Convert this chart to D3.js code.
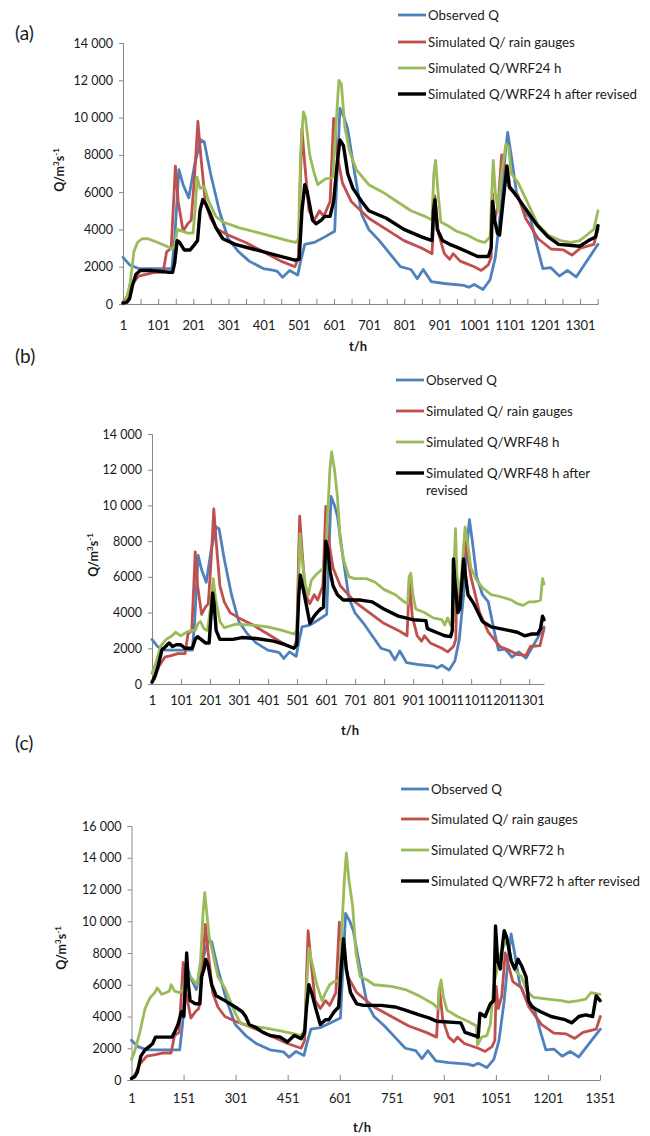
<!DOCTYPE html>
<html><head><meta charset="utf-8">
<script src="https://cdn.jsdelivr.net/npm/d3@7"></script>
<style>
html,body{margin:0;padding:0;background:#fff;}
svg{display:block;font-family:Lato,"Open Sans",sans-serif;}
</style></head>
<body>
<svg id="chart" width="650" height="1136"></svg>
<script>
// ---------- DATA ----------
const legendA = ["Observed Q","Simulated Q/ rain gauges","Simulated Q/WRF24 h","Simulated Q/WRF24 h after revised"];
const legendB = ["Observed Q","Simulated Q/ rain gauges","Simulated Q/WRF48 h","Simulated Q/WRF48 h after|revised"];
const legendC = ["Observed Q","Simulated Q/ rain gauges","Simulated Q/WRF72 h","Simulated Q/WRF72 h after revised"];

const yTicksA = [0,2000,4000,6000,8000,10000,12000,14000];
const yTicksB = [0,2000,4000,6000,8000,10000,12000,14000];
const yTicksC = [0,2000,4000,6000,8000,10000,12000,14000,16000];
const xTicksA = [1,51,101,151,201,251,301,351,401,451,501,551,601,651,701,751,801,851,901,951,1001,1051,1101,1151,1201,1251,1301,1351];
const xLabelsA = [1,101,201,301,401,501,601,701,801,901,1001,1101,1201,1301];
const xTicksB = [1,101,201,301,401,501,601,701,801,901,1001,1101,1201,1301];
const xTicksC = [1,151,301,451,601,751,901,1051,1201,1351];

const observedQ = [[1,2500],[20,2100],[45,1900],[100,1900],[140,1900],[148,3500],[160,7200],[172,6400],[188,5700],[205,7500],[222,8800],[232,8700],[250,7000],[275,5000],[300,3500],[330,2800],[360,2300],[400,1900],[430,1800],[440,1750],[455,1430],[475,1800],[498,1550],[505,2200],[518,3200],[545,3300],[575,3600],[603,3900],[610,7000],[618,10500],[630,10000],[640,9400],[660,7000],[680,4800],[700,4000],[730,3400],[760,2700],[790,2000],[820,1850],[838,1350],[855,1850],[878,1200],[915,1100],[970,1000],[985,900],[1000,1050],[1025,780],[1045,1300],[1060,2500],[1075,5000],[1088,8000],[1095,9200],[1105,8000],[1120,6000],[1140,5000],[1160,4600],[1180,3000],[1195,1900],[1218,1950],[1242,1500],[1265,1800],[1290,1450],[1352,3200]];

const rainGaugeQ = [[1,100],[10,300],[25,1000],[45,1500],[70,1600],[90,1700],[115,1700],[125,2800],[138,3000],[145,5500],[150,7400],[158,5500],[172,3900],[185,4300],[195,4500],[205,7000],[214,9800],[222,8000],[235,5500],[250,4600],[270,4000],[300,3700],[350,3300],[400,2800],[450,2300],[490,2000],[500,2500],[506,7000],[510,9400],[518,7500],[530,5000],[545,4500],[560,5000],[572,4700],[590,5500],[600,9950],[610,8000],[625,6500],[650,5500],[700,4600],[750,4000],[800,3400],[850,3000],[880,2700],[888,5800],[898,3800],[915,2700],[930,2400],[940,2700],[960,2300],[1000,2000],[1020,1800],[1040,2100],[1048,2500],[1052,5900],[1058,4500],[1068,5300],[1078,8000],[1090,7000],[1100,6200],[1125,5800],[1146,4600],[1182,3500],[1218,2950],[1254,2900],[1278,2620],[1302,3000],[1340,3200],[1352,4000]];

const rainGaugeQb = [[1,100],[10,300],[25,1000],[45,1500],[70,1600],[90,1700],[115,1700],[125,2800],[138,3000],[145,5500],[150,7400],[158,5500],[172,3900],[185,4300],[195,4500],[205,7000],[214,9800],[222,8000],[235,5500],[250,4600],[270,4000],[300,3700],[350,3300],[400,2800],[450,2300],[490,2000],[500,2500],[506,7000],[510,9400],[518,7500],[530,5000],[545,4500],[560,5000],[572,4700],[590,5500],[600,9950],[610,8000],[625,6500],[650,5500],[700,4600],[750,4000],[800,3400],[850,3000],[880,2700],[888,5800],[898,3800],[915,2700],[930,2400],[940,2700],[960,2300],[1000,2000],[1020,1800],[1040,2100],[1048,2500],[1052,5900],[1058,4500],[1068,5300],[1078,8000],[1090,7000],[1100,6000],[1130,4000],[1160,2900],[1200,2100],[1230,1900],[1260,1650],[1290,1600],[1305,2100],[1338,2150],[1352,3100]];

const wrf24Q = [[1,0],[12,300],[22,1200],[32,2800],[42,3300],[55,3500],[72,3500],[100,3300],[125,3100],[140,2950],[148,3100],[155,4000],[170,3900],[185,3800],[200,3800],[206,5000],[212,6800],[220,6200],[232,6300],[245,5500],[265,4700],[285,4400],[330,4100],[380,3850],[430,3600],[470,3400],[492,3300],[500,3500],[506,8000],[514,10300],[520,10000],[532,8000],[545,7000],[555,6400],[575,6700],[598,6800],[605,9000],[615,12000],[622,11800],[632,9500],[645,8200],[665,7200],[700,6400],[740,6000],[780,5500],[820,5000],[860,4700],[880,4500],[885,7000],[890,7700],[897,6000],[905,4400],[925,4200],[950,3900],[980,3700],[1010,3400],[1030,3300],[1045,3600],[1050,6000],[1054,7700],[1060,6000],[1068,5000],[1078,7000],[1090,8600],[1098,8400],[1105,7000],[1125,6500],[1150,5500],[1180,4300],[1210,3700],[1245,3400],[1275,3300],[1300,3400],[1320,3700],[1340,4000],[1352,5000]];

const wrf24RevQ = [[1,50],[12,100],[20,300],[28,1000],[38,1600],[50,1800],[80,1800],[110,1750],[130,1700],[142,1700],[148,2200],[155,3400],[162,3300],[175,2900],[192,2900],[205,3200],[213,3400],[220,5000],[228,5600],[238,5300],[250,4800],[265,4100],[285,3500],[320,3200],[370,2950],[420,2700],[460,2500],[490,2350],[502,2400],[510,5000],[518,6400],[525,6000],[540,4500],[550,4300],[565,4500],[575,4700],[590,4700],[600,5500],[610,7500],[618,8800],[628,8500],[640,7000],[655,6200],[680,5500],[700,5000],[750,4600],[800,4000],[850,3600],[880,3400],[884,5000],[888,5600],[895,4000],[910,3400],[930,3200],[950,3050],[980,2800],[1010,2550],[1040,2550],[1048,3000],[1052,5500],[1058,4500],[1066,3800],[1072,3700],[1082,5500],[1093,7400],[1100,6300],[1120,5800],[1150,5000],[1180,4200],[1210,3600],[1240,3200],[1270,3150],[1300,3100],[1325,3400],[1345,3600],[1352,4200]];

const wrf48Q = [[1,600],[15,1200],[30,2100],[50,2500],[70,2700],[82,2900],[100,2700],[120,2900],[135,3000],[150,3000],[160,3400],[168,3500],[180,3100],[192,3000],[202,4200],[212,5900],[220,4800],[235,3500],[250,3150],[290,3350],[350,3300],[400,3200],[450,3000],[490,2800],[500,3000],[505,5000],[511,8400],[518,7000],[530,5500],[540,5000],[550,5800],[565,6100],[585,6400],[598,6400],[605,9000],[614,12000],[620,13000],[630,12000],[640,10500],[650,8000],[662,6900],[680,6000],[700,5900],[740,5900],[770,5700],[800,5300],[840,5000],[870,4600],[882,4500],[887,6000],[893,6200],[900,5000],[910,4200],[940,4000],[970,3700],[1000,3600],[1010,3300],[1020,3700],[1030,3300],[1040,3500],[1043,7000],[1047,8700],[1052,6000],[1062,5000],[1072,7000],[1080,8800],[1088,8000],[1100,6500],[1120,5800],[1140,5400],[1170,5000],[1200,4900],[1220,4800],[1240,4700],[1260,4500],[1280,4400],[1300,4600],[1320,4600],[1340,4700],[1347,5900],[1352,5600]];

const wrf48RevQ = [[1,100],[10,400],[22,1000],[35,1900],[48,2100],[60,2300],[72,2100],[85,2200],[100,2200],[115,2000],[140,2000],[150,2500],[158,2650],[170,2500],[185,2300],[198,2300],[203,3500],[210,5100],[215,4500],[222,3000],[235,2500],[280,2500],[310,2600],[360,2550],[420,2400],[460,2200],[490,2000],[500,2200],[507,5000],[512,6100],[520,5500],[532,4500],[545,3400],[560,3800],[570,4000],[582,4200],[592,4300],[600,8000],[607,7500],[615,6300],[625,5500],[640,5000],[660,4700],[720,4700],[760,4600],[800,4200],[850,3800],[900,3600],[945,3550],[950,3100],[980,2900],[1010,2700],[1030,2650],[1036,3000],[1040,7000],[1046,5500],[1055,4000],[1062,4200],[1068,5500],[1075,7000],[1082,6000],[1090,5000],[1110,4500],[1125,4000],[1140,3500],[1170,3200],[1200,3100],[1230,3000],[1260,2900],[1285,2700],[1310,2800],[1330,2800],[1340,3100],[1347,3800],[1352,3600]];

const wrf72Q = [[1,1300],[10,1800],[25,3000],[40,4500],[55,5200],[68,5500],[75,5800],[88,5400],[100,5500],[110,5600],[115,6000],[125,5600],[140,5500],[150,5700],[160,6800],[175,6400],[190,6000],[200,7500],[207,10500],[212,11800],[218,10500],[225,9000],[235,8000],[250,6500],[270,5800],[285,5000],[300,4200],[315,3600],[340,3400],[380,3300],[430,3100],[470,2900],[490,2800],[500,3200],[506,6000],[512,8300],[520,7500],[535,6000],[550,5000],[560,5500],[572,6000],[585,6200],[600,6300],[606,9000],[614,12500],[620,14300],[628,12500],[638,11000],[648,8000],[660,6500],[680,6300],[700,6000],[750,5900],[790,5700],[830,5300],[870,4800],[884,4500],[888,5800],[893,6300],[900,5200],[910,4400],[940,4000],[970,3700],[995,3400],[998,2200],[1010,2700],[1025,2800],[1035,3500],[1045,6000],[1055,7000],[1065,8000],[1075,8500],[1085,8800],[1095,7500],[1110,6800],[1125,6500],[1140,5600],[1160,5200],[1200,5100],[1240,5000],[1260,4900],[1290,5000],[1310,5100],[1325,5500],[1351,5400]];

const wrf72RevQ = [[1,100],[10,200],[18,500],[28,1500],[40,1900],[52,2100],[62,2300],[70,2700],[100,2700],[118,2700],[125,3000],[135,3500],[145,4300],[152,4000],[156,6000],[160,8000],[165,6000],[170,5000],[185,4800],[198,4800],[203,6500],[210,7000],[215,7600],[222,7200],[232,6000],[245,5300],[270,5000],[300,4600],[320,4300],[330,4000],[340,3500],[360,3300],[380,3000],[400,2800],[430,2700],[450,2400],[470,2800],[490,2600],[500,3000],[505,4500],[512,6000],[520,5500],[532,4500],[545,3500],[560,3800],[570,3800],[585,4300],[598,4600],[605,7000],[612,8900],[620,7000],[632,5500],[650,4800],[670,4700],[720,4700],[760,4600],[790,4400],[830,4100],[860,3900],[880,3700],[950,3600],[962,3000],[990,2800],[1000,2700],[1005,4200],[1020,4000],[1035,4800],[1045,5000],[1050,9700],[1056,7500],[1064,7000],[1070,8500],[1075,9400],[1082,9000],[1095,7500],[1105,7000],[1115,7600],[1125,7200],[1138,6500],[1145,5000],[1155,4600],[1180,4300],[1210,4000],[1230,3900],[1250,3800],[1270,3600],[1290,4000],[1310,4100],[1330,4000],[1340,5300],[1351,5000]];

// ---------- STYLE ----------
const colors = ["#4F81BD","#C0504D","#9BBB59","#000000"];
const widths = [2.8,2.8,2.8,3.4];
const axisColor = "#868686";
const textColor = "#1a1a1a";

const svg = d3.select("#chart");

function fmt(v){ return v >= 10000 ? String(Math.floor(v/1000)) + " 000" : String(v); }

function drawPanel(p){
  const g = svg.append("g");
  const x = d3.scaleLinear().domain(p.xDomain).range([p.left, p.right]);
  const y = d3.scaleLinear().domain([0, p.yMax]).range([p.bottom, p.top]);

  // y axis
  const ya = g.append("g").attr("transform", `translate(${p.left},0)`)
    .call(d3.axisLeft(y).tickValues(p.yTicks).tickSize(4).tickPadding(6).tickFormat(fmt));
  ya.select(".domain").attr("stroke", axisColor).attr("stroke-width",1);
  ya.selectAll(".tick line").attr("stroke", axisColor);
  ya.selectAll(".tick text").attr("fill", textColor).style("font-size","12.5px").style("font-family","Lato");

  // x axis
  const xa = g.append("g").attr("transform", `translate(0,${p.bottom})`)
    .call(d3.axisBottom(x).tickValues(p.xTicks).tickSizeInner(-5).tickSizeOuter(0).tickPadding(p.xPad)
      .tickFormat(d => p.xLabels.includes(d) ? d : ""));
  xa.select(".domain").attr("stroke", axisColor).attr("stroke-width",1);
  xa.selectAll(".tick line").attr("stroke", axisColor);
  xa.selectAll(".tick text").attr("fill", textColor).style("font-size","13px").style("font-family","Lato");

  // lines
  const line = d3.line().x(d => x(d[0])).y(d => y(d[1]));
  p.series.forEach((s, i) => {
    g.append("path").datum(s).attr("d", line)
      .attr("fill","none").attr("stroke", colors[i]).attr("stroke-width", widths[i])
      .attr("stroke-linejoin","round").attr("stroke-linecap","round");
  });

  // y title
  const yt = g.append("text").attr("transform", `translate(${p.yTitleX},${p.yTitleY}) rotate(-90)`)
    .attr("text-anchor","middle").attr("fill", textColor)
    .style("font-size","12.5px").style("font-weight","bold").style("font-family","Lato");
  yt.append("tspan").text("Q/m");
  yt.append("tspan").attr("dy",-5).style("font-size","8px").text("3");
  yt.append("tspan").attr("dy",5).text("s");
  yt.append("tspan").attr("dy",-5).style("font-size","8px").text("-1");

  // x title
  g.append("text").attr("x", p.xTitleX).attr("y", p.xTitleY).attr("text-anchor","middle")
    .attr("fill", textColor).style("font-size","13px").style("font-weight","bold").text("t/h");

  // panel label
  g.append("text").attr("x", 15).attr("y", p.labelY).attr("dominant-baseline","central")
    .attr("fill", textColor).style("font-size","19px").text(p.label);

  // legend
  p.legend.forEach((name, i) => {
    const ly = p.legendY[i];
    g.append("line").attr("x1", p.legX).attr("x2", p.legX + 28).attr("y1", ly).attr("y2", ly)
      .attr("stroke", colors[i]).attr("stroke-width", widths[i]);
    const parts = name.split("|");
    parts.forEach((t, k) => {
      g.append("text").attr("x", p.legX + 30).attr("y", ly + k*17).attr("dominant-baseline","central")
        .attr("fill", textColor).style("font-size","13.3px").text(t);
    });
  });
}

drawPanel({
  label:"(a)", labelY:32,
  left:123, right:598, top:43, bottom:304, xDomain:[1,1352], yMax:14000,
  yTicks:yTicksA, xTicks:xTicksA, xLabels:xLabelsA, xPad:17,
  series:[observedQ, rainGaugeQ, wrf24Q, wrf24RevQ],
  yTitleX:64, yTitleY:170, xTitleX:358, xTitleY:351,
  legend:legendA, legX:398, legendY:[15,42,68,94]
});
drawPanel({
  label:"(b)", labelY:355,
  left:152, right:544, top:434, bottom:684, xDomain:[1,1352], yMax:14000,
  yTicks:yTicksB, xTicks:xTicksB, xLabels:xTicksB, xPad:12,
  series:[observedQ, rainGaugeQb, wrf48Q, wrf48RevQ],
  yTitleX:98, yTitleY:555, xTitleX:350, xTitleY:735,
  legend:legendB, legX:396, legendY:[380,411,442,473]
});
drawPanel({
  label:"(c)", labelY:742,
  left:131.5, right:600, top:826, bottom:1080, xDomain:[1,1351], yMax:16000,
  yTicks:yTicksC, xTicks:xTicksC, xLabels:xTicksC, xPad:14,
  series:[observedQ, rainGaugeQ, wrf72Q, wrf72RevQ],
  yTitleX:66, yTitleY:948, xTitleX:362, xTitleY:1132,
  legend:legendC, legX:401, legendY:[789,819,850,881]
});
</script>
</body></html>
